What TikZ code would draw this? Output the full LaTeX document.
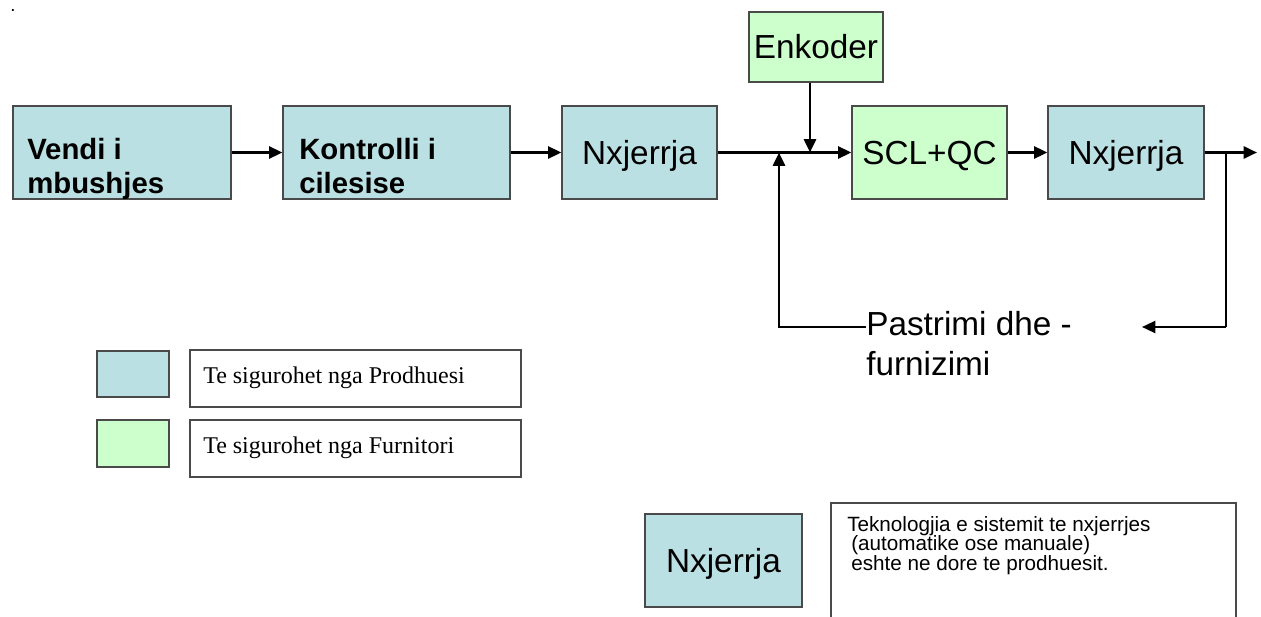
\documentclass[tikz,border=0pt]{standalone}
\usepackage{fontspec}
\setmainfont{Liberation Sans}
\newfontfamily\legserif{Liberation Serif}
\usetikzlibrary{arrows.meta}
\definecolor{boxblue}{HTML}{BBE0E3}
\definecolor{boxgreen}{HTML}{CCFFCC}
\definecolor{boxline}{HTML}{4A4A4A}
\begin{document}
\begin{tikzpicture}[x=0.75pt,y=-0.75pt,
  sz/.style 2 args={minimum width={#1*0.75pt},minimum height={#2*0.75pt}},
  box/.style={draw=boxline,line width=0.9pt,inner sep=0pt,rectangle},
  bluebox/.style={box,fill=boxblue},
  greenbox/.style={box,fill=boxgreen},
  whitebox/.style={box,fill=white},
  bigtxt/.style={font=\fontsize{25}{30}\selectfont,text height=17.9pt,text depth=0pt},
  boldtxt/.style={font=\bfseries\fontsize{22}{25.5}\selectfont,align=left,inner sep=0pt,anchor=north west},
  legtxt/.style={font=\legserif\fontsize{18}{21}\selectfont,inner sep=0pt,anchor=base west},
  notetxt/.style={font=\fontsize{15.5}{14.6}\selectfont,align=left,inner sep=0pt,anchor=north west},
  tip/.style={-{Triangle[length=10pt,width=9pt]}},
  flow/.style={line width=2pt,tip},
  thinline/.style={line width=1.1pt}
]
\useasboundingbox (0,0) rectangle (1261,617);

% stray dot
\node[font=\fontsize{14}{14}\selectfont,inner sep=0pt,anchor=base west] (dot) at (10,12) {.};

% main chain
\node[bluebox,sz={218}{93}] (b1) at (122,152.5) {};
\node[boldtxt] (t1) at (27,138) {Vendi i\\mbushjes};
\node[bluebox,sz={227}{93}] (b2) at (396.5,152.5) {};
\node[boldtxt] (t2) at (299,138) {Kontrolli i\\cilesise};
\node[bluebox,sz={155}{93},bigtxt] (b3) at (639.5,152.5) {Nxjerrja};
\node[greenbox,sz={134}{70},bigtxt] (enc) at (816,47) {Enkoder};
\node[greenbox,sz={155}{93},bigtxt] (scl) at (929.5,152.5) {SCL+QC};
\node[bluebox,sz={156}{93},bigtxt] (b5) at (1126,152.5) {Nxjerrja};

\coordinate (out) at (1257,152.5);
\coordinate (j1) at (810,152.5);
\coordinate (j2) at (779,152.5);
\coordinate (fb) at (779,327);
\coordinate (br) at (1226,152.5);
\coordinate (ret) at (1142,327);

\draw[flow] (b1) -- (b2);
\draw[flow] (b2) -- (b3);
\draw[flow] (b3) -- (scl);
\draw[flow] (scl) -- (b5);
\draw[flow] (b5) -- (out);
\draw[flow] (enc.south -| j1) -- (j1);

% feedback
\node[font=\fontsize{25}{30}\selectfont,align=left,inner sep=0pt,anchor=north west] (past) at (866,311) {Pastrimi dhe -\\furnizimi};
\draw[line width=2pt] (fb) -- ++(0,1);
\draw[flow] (fb) -- (j2);
\draw[thinline] (fb) -- (past.north west |- fb);
\draw[line width=1.3pt] (br) -- (br |- ret);
\draw[line width=1.7pt,tip] (br |- ret) -- (ret);

% legend
\node[bluebox,sz={72}{46}] (lb1) at (133,374) {};
\node[whitebox,sz={331}{57}] (lt1) at (355.5,378.5) {};
\node[legtxt] (lx1) at (203,383) {Te sigurohet nga Prodhuesi};
\node[greenbox,sz={72}{47}] (lb2) at (133,443.5) {};
\node[whitebox,sz={331}{57}] (lt2) at (355.5,448.5) {};
\node[legtxt] (lx2) at (203,453) {Te sigurohet nga Furnitori};

% note
\node[bluebox,sz={157}{93},bigtxt] (ln) at (723.5,560.5) {Nxjerrja};
\coordinate (nb1) at (831,617);
\coordinate (nb2) at (1236,617);
\draw[box] (nb1) |- (1236,503) -- (nb2);
\node[notetxt] (note) at (847,516) {Teknologjia e sistemit te nxjerrjes\\\hspace*{3pt}(automatike ose manuale)\\\hspace*{3pt}eshte ne dore te prodhuesit.};
\end{tikzpicture}
\end{document}
